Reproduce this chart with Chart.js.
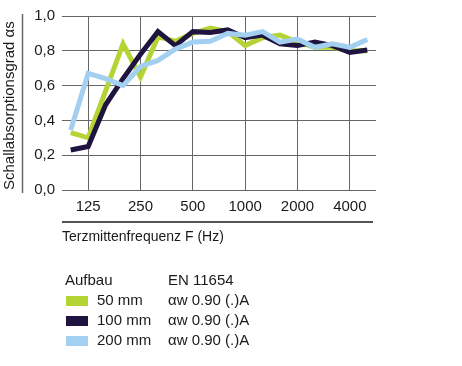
<!DOCTYPE html>
<html>
<head>
<meta charset="utf-8">
<script src="https://cdn.jsdelivr.net/npm/chart.js"></script>
<style>
  body { margin: 0; background: #fff; font-family: "Liberation Sans", Arial, sans-serif; color: #1a1a1a; }
  #wrap { position: relative; width: 462px; height: 366px; }
  #myChart { position: absolute; left: 0; top: 0; }
  .txt { position: absolute; font-size: 15px; line-height: 18px; white-space: nowrap; }
  .box { position: absolute; width: 22px; height: 10px; }
</style>
</head>
<body>
<div id="wrap">
  <canvas id="myChart"></canvas>
  <div id="legende"></div>
</div>
<script>
// Terzbänder 100 Hz bis 5000 Hz
const frequenzen = ['100', '125', '160', '200', '250', '315', '400', '500', '630', '800', '1000', '1250', '1600', '2000', '2500', '3150', '4000', '5000'];
const beschriftet = ['125', '250', '500', '1000', '2000', '4000'];

// Schallabsorptionsgrad je Aufbau
const werte50  = [0.33, 0.30, 0.57, 0.84, 0.65, 0.88, 0.855, 0.90, 0.93, 0.91, 0.83, 0.875, 0.89, 0.85, 0.82, 0.82, 0.80, 0.80];
const werte100 = [0.23, 0.25, 0.49, 0.64, 0.78, 0.91, 0.83, 0.91, 0.905, 0.92, 0.875, 0.89, 0.84, 0.83, 0.85, 0.83, 0.79, 0.805];
const werte200 = [0.345, 0.67, 0.64, 0.60, 0.71, 0.745, 0.81, 0.85, 0.855, 0.90, 0.89, 0.91, 0.85, 0.867, 0.82, 0.84, 0.82, 0.865];

const aufbauNamen = ['50 mm', '100 mm', '200 mm'];
const bewertung = ['αw 0.90 (.)A', 'αw 0.90 (.)A', 'αw 0.90 (.)A'];
const farben = ['#b4d335', '#1f1440', '#a3cff1'];

// Linien neben der Y-Achse und unter den X-Beschriftungen
const linienPlugin = {
  id: 'linien',
  afterDraw(chart) {
    const c = chart.ctx;
    const area = chart.chartArea;
    c.save();
    c.lineWidth = 1.5;
    c.strokeStyle = '#666';
    c.beginPath();
    c.moveTo(22.5, area.top - 2);
    c.lineTo(22.5, area.bottom + 3);
    c.stroke();
    c.strokeStyle = '#1a1a1a';
    c.beginPath();
    c.moveTo(area.left, area.bottom + 32);
    c.lineTo(area.right - 3, area.bottom + 32);
    c.stroke();
    c.restore();
  }
};

const config = {
  type: 'line',
  data: {
    labels: frequenzen,
    datasets: [{
      label: aufbauNamen[0],
      data: werte50,
      borderColor: farben[0],
      order: 3
    }, {
      label: aufbauNamen[1],
      data: werte100,
      borderColor: farben[1],
      order: 2
    }, {
      label: aufbauNamen[2],
      data: werte200,
      borderColor: farben[2],
      order: 1
    }]
  },
  options: {
    responsive: false,
    animation: false,
    elements: {
      line: { borderWidth: 5, tension: 0, borderJoinStyle: 'miter', fill: false },
      point: { radius: 0 }
    },
    layout: { padding: { left: 0, top: 7, right: 86, bottom: 116 } },
    plugins: {
      legend: { display: false },
      tooltip: { enabled: false }
    },
    scales: {
      x: {
        offset: true,
        afterFit: s => { s.height = 60; },
        border: { display: false },
        grid: {
          offset: false,
          drawTicks: false,
          lineWidth: 1,
          color: ctx => beschriftet.includes(frequenzen[ctx.index]) ? '#666' : 'rgba(0,0,0,0)'
        },
        ticks: {
          autoSkip: false,
          maxRotation: 0,
          minRotation: 0,
          padding: 8,
          color: '#1a1a1a',
          font: { family: 'Liberation Sans', size: 15 },
          callback: function (value) {
            const l = this.getLabelForValue(value);
            return beschriftet.includes(l) ? l : '';
          }
        },
        title: {
          display: true,
          text: 'Terzmittenfrequenz F (Hz)',
          align: 'start',
          color: '#1a1a1a',
          font: { family: 'Liberation Sans', size: 14 },
          padding: { top: 0, bottom: 4 }
        }
      },
      y: {
        min: 0,
        max: 1,
        afterFit: s => { s.width = 62; },
        border: { display: false },
        grid: { drawTicks: false, color: '#666', lineWidth: 1 },
        ticks: {
          stepSize: 0.2,
          padding: 7,
          color: '#1a1a1a',
          font: { family: 'Liberation Sans', size: 15 },
          callback: v => v.toFixed(1).replace('.', ',')
        },
        title: {
          display: true,
          text: 'Schallabsorptionsgrad αs',
          align: 'start',
          color: '#1a1a1a',
          font: { family: 'Liberation Sans', size: 15 },
          padding: { top: 1, bottom: 0 }
        }
      }
    }
  },
  plugins: [linienPlugin]
};

const canvas = document.getElementById('myChart');
canvas.width = 462;
canvas.height = 366;
const myChart = new Chart(canvas.getContext('2d'), config);

// Legende unter dem Diagramm
const legende = document.getElementById('legende');
let html = '<div class="txt" style="left:65px;top:271px">Aufbau</div>' +
           '<div class="txt" style="left:168px;top:271px">EN 11654</div>';
aufbauNamen.forEach(function (name, i) {
  const y = 291 + i * 20;
  html += '<div class="box" style="left:66px;top:' + (y + 5) + 'px;background:' + farben[i] + '"></div>';
  html += '<div class="txt" style="left:97px;top:' + y + 'px">' + name + '</div>';
  html += '<div class="txt" style="left:168px;top:' + y + 'px">' + bewertung[i] + '</div>';
});
legende.innerHTML = html;
</script>
</body>
</html>
